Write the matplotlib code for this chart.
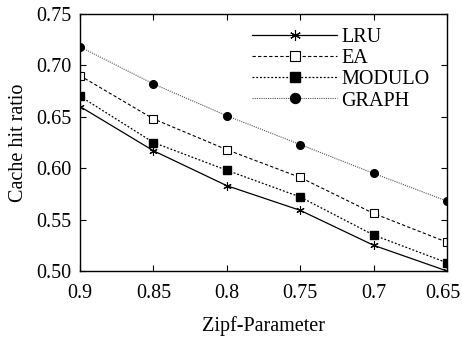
import matplotlib
matplotlib.use('Agg')
import matplotlib.pyplot as plt
import matplotlib.transforms as mtransforms

plt.rcParams['font.family'] = ['Liberation Serif', 'DejaVu Serif']

# データ
zipf = [0.9, 0.85, 0.8, 0.75, 0.7, 0.65]
xtick_labels = ['0.9', '0.85', '0.8', '0.75', '0.7', '0.65']
lru = [0.660, 0.617, 0.583, 0.559, 0.525, 0.500]
ea = [0.690, 0.648, 0.618, 0.591, 0.556, 0.528]
modulo = [0.670, 0.625, 0.598, 0.572, 0.535, 0.508]
graph = [0.718, 0.682, 0.651, 0.623, 0.595, 0.568]

fig = plt.figure(figsize=(4.62, 3.38), dpi=100)
ax = fig.add_axes([80 / 462, 1 - 271 / 338, 367 / 462, 257 / 338])

ax.plot(zipf, lru, '-', color='black', lw=0.9, marker=(6, 2, 0), ms=6, mew=0.8, label='LRU')
ax.plot(zipf, ea, '--', color='black', lw=0.8, dashes=(3, 2), marker='s', ms=5.5,
        mfc='white', mec='black', mew=0.8, label='EA')
ax.plot(zipf, modulo, ':', color='black', lw=0.9, dashes=(1.5, 1.5), marker='s', ms=5.5,
        label='MODULO')
ax.plot(zipf, graph, ':', color='#555555', lw=0.8, dashes=(1, 1), marker='o', ms=5.5,
        mfc='black', mec='black', label='GRAPH')

ax.set_xlim(0.9, 0.65)
ax.set_ylim(0.5, 0.75)
ax.set_xticks(zipf)
ax.set_xticklabels(xtick_labels)
ax.set_yticks([0.5, 0.55, 0.6, 0.65, 0.7, 0.75])
ax.set_yticklabels(['0.50', '0.55', '0.60', '0.65', '0.70', '0.75'])
ax.tick_params(direction='in', labelsize=14.5, length=4, pad=6, top=True, right=True)
ax.tick_params(axis='x', pad=9)
for s in ax.spines.values():
    s.set_linewidth(1.0)

# 右端のラベルが切れないように少し左へずらす
last = ax.get_xticklabels()[-1]
last.set_transform(last.get_transform() + mtransforms.ScaledTranslation(-4 / 100, 0, fig.dpi_scale_trans))

ax.set_xlabel('Zipf-Parameter', fontsize=14.5, labelpad=10)
ax.set_ylabel('Cache hit ratio', fontsize=14.5, labelpad=6)

ax.legend(loc='upper right', frameon=False, fontsize=14.5, handlelength=4.2,
          handletextpad=0.2, labelspacing=0.1, borderaxespad=0.3,
          bbox_to_anchor=(0.99, 1.0), markerscale=1.3)

fig.savefig('out.png', dpi=100)
